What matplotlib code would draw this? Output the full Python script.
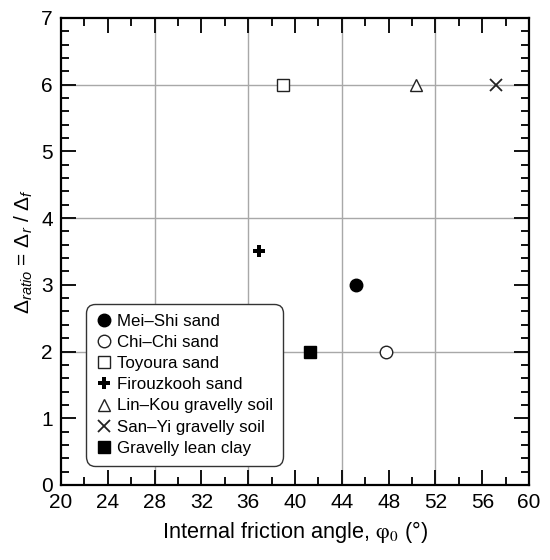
import numpy as np
import matplotlib
matplotlib.use("Agg")
import matplotlib.pyplot as plt
from matplotlib.ticker import MultipleLocator

plt.rcParams['font.family'] = ['Liberation Sans', 'DejaVu Sans']
plt.rcParams['mathtext.fontset'] = 'custom'
plt.rcParams['mathtext.rm'] = 'Liberation Sans'
plt.rcParams['mathtext.it'] = 'Liberation Sans:italic'

# data
soils = ["Mei\u2013Shi sand", "Chi\u2013Chi sand", "Toyoura sand", "Firouzkooh sand",
         "Lin\u2013Kou gravelly soil", "San\u2013Yi gravelly soil", "Gravelly lean clay"]
phi0 = [45.2, 47.8, 39.0, 36.9, 50.3, 57.2, 41.3]
d_ratio = [3.0, 2.0, 6.0, 3.5, 6.0, 6.0, 2.0]

# marker styles per soil
styles = [
    dict(marker='o', ms=9, mfc='black', mec='black', mew=1),
    dict(marker='o', ms=9, mfc='white', mec='#222222', mew=1),
    dict(marker='s', ms=9, mfc='white', mec='#222222', mew=1),
    dict(marker='P', ms=9, mfc='black', mec='black', mew=0),
    dict(marker='^', ms=8, mfc='white', mec='#222222', mew=1),
    dict(marker='x', ms=9, mfc='none', mec='#222222', mew=1.3),
    dict(marker='s', ms=9, mfc='black', mec='black', mew=1),
]

fig = plt.figure(figsize=(5.5, 5.6), dpi=100)
ax = fig.add_axes([0.111, 0.134, 0.851, 0.834])

for name, x, y, st in zip(soils, phi0, d_ratio, styles):
    ax.plot([x], [y], linestyle='none', label=name, zorder=3, **st)

ax.set_xlim(20, 60)
ax.set_ylim(0, 7)
ax.xaxis.set_major_locator(MultipleLocator(4))
ax.xaxis.set_minor_locator(MultipleLocator(2))
ax.yaxis.set_major_locator(MultipleLocator(1))
ax.yaxis.set_minor_locator(MultipleLocator(0.2))

# grid only every 8 deg and every 2 units
for gx in [28, 36, 44, 52]:
    ax.axvline(gx, color='#a8a8a8', lw=1, zorder=1)
for gy in [2, 4, 6]:
    ax.axhline(gy, color='#a8a8a8', lw=1, zorder=1)

ax.tick_params(which='both', direction='in', top=True, right=True, width=1.4, color='#111111')
ax.tick_params(which='major', length=11, labelsize=15, pad=6)
ax.tick_params(which='minor', length=6)
for sp in ax.spines.values():
    sp.set_linewidth(1.6)

ax.set_xlabel("Internal friction angle, $\\mathrm{\u03c6}_0$ (\u00b0)", fontsize=15.7, labelpad=5)
ax.xaxis.label.set_math_fontfamily('stix')
ax.set_ylabel("$\\Delta_{\\mathit{ratio}}$ = $\\Delta_\\mathit{r}$ / $\\Delta_\\mathit{f}$", fontsize=15, labelpad=4)

leg = ax.legend(loc='lower left', bbox_to_anchor=(0.053, 0.041), borderaxespad=0,
                fontsize=12.2, frameon=True, fancybox=True, edgecolor='#333333',
                framealpha=1, handletextpad=0.25, handlelength=1.0, borderpad=0.6,
                labelspacing=0.36)
leg.get_frame().set_linewidth(1.0)
leg.get_frame().set_boxstyle('round', pad=0, rounding_size=0.55)
leg.set_zorder(5)

fig.savefig("out.png", dpi=100)
